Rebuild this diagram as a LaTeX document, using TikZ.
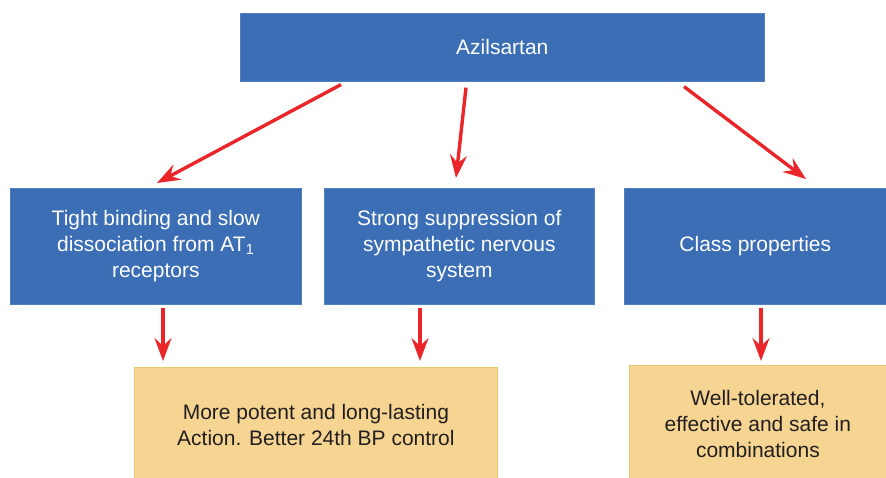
\documentclass[tikz,border=0pt]{standalone}
\usepackage{fontspec}
\setmainfont{Liberation Sans}
\usetikzlibrary{arrows.meta,calc}
\definecolor{boxblue}{RGB}{59,110,180}
\definecolor{boxblueedge}{RGB}{80,128,192}
\definecolor{boxsand}{RGB}{246,212,146}
\definecolor{boxsandedge}{RGB}{232,200,110}
\definecolor{arrowred}{RGB}{234,38,42}
\definecolor{txtdark}{RGB}{35,31,32}
\tikzset{
  bluebox/.style={draw=boxblueedge, line width=0.6pt, fill=boxblue, text=white,
    anchor=north west, align=center, inner sep=0pt,
    font=\fontsize{21}{26}\selectfont},
  sandbox/.style={draw=boxsandedge, line width=0.8pt, fill=boxsand, text=txtdark,
    anchor=north west, align=center, inner sep=0pt,
    font=\fontsize{21}{26}\selectfont},
  redarrow/.style={draw=arrowred, line width=3.4pt,
    -{Stealth[length=23pt,width=17pt,inset=8pt]}}
}
\begin{document}
\begin{tikzpicture}[x=1pt,y=-1pt]
  \useasboundingbox (0,0) rectangle (886,478);

  % top node
  \node[bluebox, minimum width=524pt, minimum height=68pt] (top) at (240,13) {Azilsartan};

  % middle row
  \node[bluebox, minimum width=291pt, minimum height=116pt] (bind) at (10,188)
    {Tight binding and slow\\dissociation from AT\textsubscript{1}\\receptors};
  \node[bluebox, minimum width=270pt, minimum height=116pt] (symp) at (324,188)
    {Strong suppression of\\sympathetic nervous\\system};
  \node[bluebox, minimum width=262pt, minimum height=116pt] (cls) at (624,188)
    {Class properties};

  % bottom row
  \node[sandbox, minimum width=363pt, minimum height=116pt] (potent) at (134,367)
    {More potent and long-lasting\\Action. Better 24th BP control};
  \node[sandbox, minimum width=257pt, minimum height=118pt] (safe) at (629,365)
    {Well-tolerated,\\effective and safe in\\combinations};

  % connectors
  \draw[redarrow] ([xshift=101pt,yshift=-3pt]top.south west) -- ([xshift=147pt,yshift=5pt]bind.north west);
  \draw[redarrow] ([xshift=226pt,yshift=-6pt]top.south west) -- ([xshift=132pt,yshift=10pt]symp.north west);
  \draw[redarrow] ([xshift=444pt,yshift=-5pt]top.south west) -- ([xshift=182pt,yshift=9pt]cls.north west);

  \draw[redarrow] ([xshift=153pt,yshift=-3pt]bind.south west) -- ([xshift=29pt,yshift=6pt]potent.north west);
  \draw[redarrow] ([xshift=96pt,yshift=-3pt]symp.south west) -- ([xshift=286pt,yshift=6pt]potent.north west);
  \draw[redarrow] ([xshift=137pt,yshift=-3pt]cls.south west) -- ([xshift=132pt,yshift=4pt]safe.north west);
\end{tikzpicture}
\end{document}
